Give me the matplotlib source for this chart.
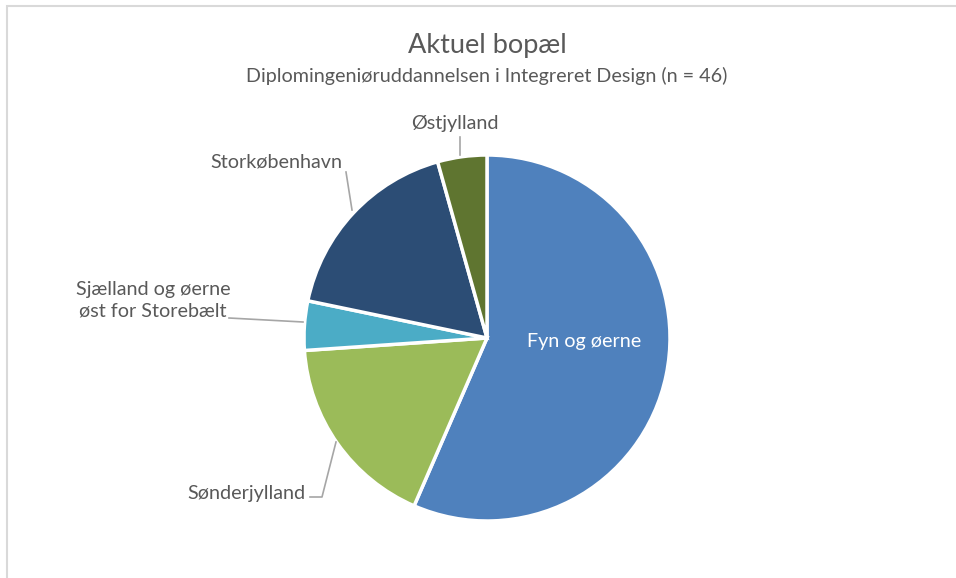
import matplotlib
matplotlib.use("Agg")
import matplotlib.pyplot as plt

plt.rcParams['font.family'] = ['Lato', 'DejaVu Sans']

categories = ["Fyn og øerne", "Sønderjylland", "Sjælland og øerne\nøst for Storebælt", "Storkøbenhavn", "Østjylland"]
values = [26, 8, 2, 8, 2]
colors = ["#4F81BD", "#9BBB59", "#4BACC6", "#2C4D75", "#5F7530"]
title = "Aktuel bopæl"
subtitle = "Diplomingeniøruddannelsen i Integreret Design (n = 46)"

W, H = 956, 578
fig = plt.figure(figsize=(W / 100, H / 100), dpi=100)
ax = fig.add_axes([0, 0, 1, 1])

def Y(y):
    return H - y

cx, cy, r = 487, 338, 183
wedges, _ = ax.pie(values, colors=colors, startangle=90, counterclock=False,
                   center=(cx, Y(cy)), radius=r, frame=True,
                   wedgeprops=dict(edgecolor="white", linewidth=2.5))
ax.set_xlim(0, W)
ax.set_ylim(0, H)
ax.set_aspect('equal')
ax.axis('off')

# chart border
ax.plot([7, 7, W + 5], [Y(H + 5), Y(6), Y(6)], color="#D9D9D9", lw=1.5, solid_joinstyle='miter')

tc = "#595959"
fs = 14.2
ax.text(487, Y(46), title, ha='center', va='center', fontsize=19.5, color=tc)
ax.text(487, Y(76), subtitle, ha='center', va='center', fontsize=fs, color=tc)

ax.text(584, Y(342), categories[0], ha='center', va='center', fontsize=fs, color='white')
ax.text(246, Y(494), categories[1], ha='center', va='center', fontsize=fs, color=tc)
ax.text(153, Y(300), categories[2], ha='center', va='center', fontsize=fs, color=tc,
        linespacing=1.3)
ax.text(276, Y(162), categories[3], ha='center', va='center', fontsize=fs, color=tc)
ax.text(455, Y(124), categories[4], ha='center', va='center', fontsize=fs, color=tc)

lc = "#A6A6A6"
ax.plot([310, 322, 336], [Y(497), Y(497), Y(442)], color=lc, lw=1.2)
ax.plot([229, 303], [Y(318), Y(322)], color=lc, lw=1.2)
ax.plot([346, 352], [Y(172), Y(210)], color=lc, lw=1.2)
ax.plot([460, 460], [Y(137), Y(155)], color=lc, lw=1.2)

fig.savefig("out.png", dpi=100, facecolor="white")
